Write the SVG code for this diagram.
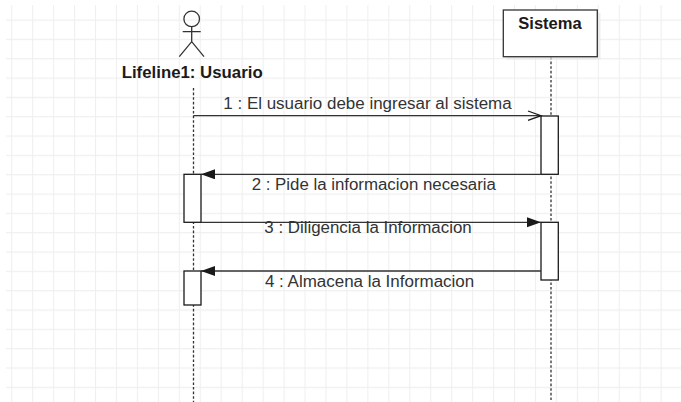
<svg xmlns="http://www.w3.org/2000/svg" width="681" height="402" viewBox="0 0 681 402">
  <style>
    .lbl { font-family: "Liberation Sans", Arial, sans-serif; font-size: 16px; fill: #333333; }
    .bold { font-weight: bold; fill: #1a1a1a; }
    .life { stroke: #333333; stroke-width: 1.3; stroke-dasharray: 2.6 2; fill: none; }
    .act { fill: #ffffff; stroke: #1a1a1a; stroke-width: 1.3; }
    .msg { stroke: #333333; stroke-width: 1.3; fill: none; }
    .actor { stroke: #333333; stroke-width: 1.3; fill: none; }
  </style>
  <defs>
    <pattern id="grid" patternUnits="userSpaceOnUse" x="11.2" y="19.5" width="20.95" height="19.33">
      <path d="M0.5 0 V19.33 M0 0.5 H20.95" stroke="#efefef" stroke-width="1.2" fill="none"/>
    </pattern>
    <marker id="filled" markerUnits="userSpaceOnUse" markerWidth="16" markerHeight="12" refX="14" refY="5" orient="auto">
      <path d="M0 0 L14 5 L0 10 Z" fill="#1a1a1a"/>
    </marker>
    <marker id="open" markerUnits="userSpaceOnUse" markerWidth="16" markerHeight="12" refX="14" refY="5.5" orient="auto">
      <path d="M1 0.8 L14 5.5 L1 10.2" fill="none" stroke="#1a1a1a" stroke-width="1.3"/>
    </marker>
  </defs>
  <rect x="0" y="0" width="681" height="402" fill="#ffffff"/>
  <rect x="6" y="5" width="675" height="397" fill="url(#grid)"/>

  <g id="lifelines">
    <line class="life" x1="193.5" y1="88" x2="193.5" y2="402"/>
    <line class="life" x1="551" y1="57" x2="551" y2="402"/>
  </g>

  <g id="usuario">
    <circle class="actor" cx="191.7" cy="18.9" r="7.8"/>
    <path class="actor" d="M191.7 26.7 V41.7 M182.7 31.7 H200.7 M179.3 56.7 L191.7 41.7 L204 56.7"/>
    <text class="lbl bold" x="192.2" y="78.3" text-anchor="middle" textLength="141" lengthAdjust="spacingAndGlyphs">Lifeline1: Usuario</text>
  </g>

  <g id="sistema">
    <rect x="506.5" y="13" width="94" height="46.7" fill="#e6e6e6" opacity="0.7"/>
    <rect x="503.3" y="10" width="94" height="46.7" fill="#ffffff" stroke="#333333" stroke-width="1.3"/>
    <text class="lbl bold" x="550" y="29.3" text-anchor="middle" textLength="63.4" lengthAdjust="spacingAndGlyphs">Sistema</text>
  </g>

  <g id="activations">
    <rect class="act" x="541" y="116" width="17.3" height="58.3"/>
    <rect class="act" x="184" y="174.3" width="17" height="48"/>
    <rect class="act" x="541" y="222.3" width="17.3" height="57.7"/>
    <rect class="act" x="184" y="271" width="17" height="34"/>
  </g>

  <g id="connectors">
    <line class="msg" x1="193.5" y1="115.7" x2="541" y2="115.7" marker-end="url(#open)"/>
    <line class="msg" x1="541" y1="174.3" x2="201" y2="174.3" marker-end="url(#filled)"/>
    <line class="msg" x1="201" y1="222.3" x2="541" y2="222.3" marker-end="url(#filled)"/>
    <line class="msg" x1="541" y1="271" x2="201" y2="271" marker-end="url(#filled)"/>
  </g>

  <g id="labels">
    <text class="lbl" x="367.5" y="109" text-anchor="middle" textLength="288.3" lengthAdjust="spacingAndGlyphs">1 : El usuario debe ingresar al sistema</text>
    <text class="lbl" x="373.8" y="190" text-anchor="middle" textLength="244.3" lengthAdjust="spacingAndGlyphs">2 : Pide la informacion necesaria</text>
    <text class="lbl" x="368" y="233.3" text-anchor="middle" textLength="207.4" lengthAdjust="spacingAndGlyphs">3 : Diligencia la Informacion</text>
    <text class="lbl" x="369.6" y="286.7" text-anchor="middle" textLength="209.3" lengthAdjust="spacingAndGlyphs">4 : Almacena la Informacion</text>
  </g>
</svg>
